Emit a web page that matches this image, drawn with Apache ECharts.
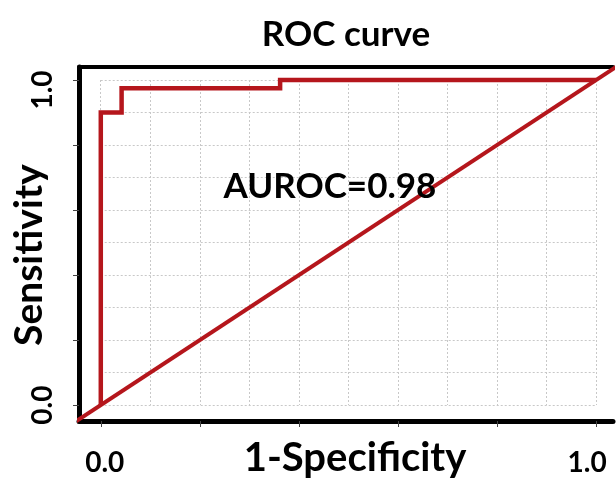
<!DOCTYPE html>
<html>
<head>
<meta charset="utf-8">
<script src="https://cdn.jsdelivr.net/npm/echarts@6/dist/echarts.min.js"></script>
<style>
html,body{margin:0;padding:0;background:#fff;}
#chart{width:616px;height:478px;}
</style>
</head>
<body>
<div id="chart"></div>
<script>
// ROC curve data (1-Specificity vs Sensitivity)
const fpr = [0, 0, 0.042, 0.042, 0.362, 0.362, 1];
const tpr = [0, 0.9, 0.9, 0.975, 0.975, 1, 1];
// chance diagonal (y = x), clipped by the plot frame
const diagX = [-0.1, 1.1];
const diagY = [-0.1, 1.1];
// axis ticks and labels
const tickValues = [0, 0.2, 0.4, 0.6, 0.8, 1];
const labelValues = [0, 1];
const gridStep = 0.1;
const titleText = 'ROC curve';
const aucText = 'AUROC=0.98';
const xName = '1-Specificity';
const yName = 'Sensitivity';

const FONT = 'Lato';
const RED = '#b5161c';

const chart = echarts.init(document.getElementById('chart'), null, {renderer: 'canvas'});

const frameX = {min: -0.044, max: 1.034};
const frameY = {min: -0.049, max: 1.04};

const lblStyle = {fontFamily: FONT, fontWeight: 'bold', fontSize: 28, color: '#000'};

chart.setOption({
  animation: false,
  backgroundColor: '#fff',
  title: [
    {text: titleText, left: 341, top: 12, textAlign: 'center',
     textStyle: {fontFamily: FONT, fontWeight: 'bold', fontSize: 35, color: '#000'}},
    {text: aucText, left: 325, top: 164, textAlign: 'center',
     textStyle: {fontFamily: FONT, fontWeight: 'bold', fontSize: 35, color: '#000'}}
  ],
  grid: [
    {left: 79, right: 3, top: 67, bottom: 57, containLabel: false, outerBoundsMode: 'none'},
    {left: 100.7, right: 20, top: 80, bottom: 73, containLabel: false, outerBoundsMode: 'none'}
  ],
  xAxis: [
    {type: 'value', gridIndex: 0, position: 'bottom', min: frameX.min, max: frameX.max,
     name: xName, nameLocation: 'middle', nameGap: 17, nameMoveOverlap: false,
     nameTextStyle: {fontFamily: FONT, fontWeight: 'bold', fontSize: 40, color: '#000', padding: [0, 0, 0, 18]},
     axisLine: {show: true, onZero: false, lineStyle: {color: '#000', width: 5}},
     axisTick: {show: true, customValues: tickValues, length: 6, lineStyle: {color: '#444', width: 1}},
     axisLabel: {show: true, customValues: labelValues, margin: 28,
       formatter: v => v === 0 ? '{a|0.0}' : '{b|1.0}',
       rich: {a: Object.assign({padding: [0, 0, 0, 8]}, lblStyle),
              b: Object.assign({padding: [0, 18, 0, 0]}, lblStyle)},
       ...lblStyle},
     splitLine: {show: false}},
    {type: 'value', gridIndex: 0, position: 'top', min: frameX.min, max: frameX.max,
     axisLine: {show: true, onZero: false, lineStyle: {color: '#000', width: 4}},
     axisTick: {show: false}, axisLabel: {show: false}, splitLine: {show: false}},
    {type: 'value', gridIndex: 1, min: 0, max: 1, interval: gridStep,
     axisLine: {show: false}, axisTick: {show: false}, axisLabel: {show: false},
     splitLine: {show: true, lineStyle: {color: '#c8c8c8', width: 1, type: [2, 2]}}}
  ],
  yAxis: [
    {type: 'value', gridIndex: 0, min: frameY.min, max: frameY.max,
     name: yName, nameLocation: 'middle', nameGap: 30, nameMoveOverlap: false,
     nameTextStyle: {fontFamily: FONT, fontWeight: 'bold', fontSize: 39, color: '#000', padding: [0, 22, 0, 0]},
     axisLine: {show: true, onZero: false, lineStyle: {color: '#000', width: 5}},
     axisTick: {show: true, customValues: tickValues, length: 6, lineStyle: {color: '#444', width: 1}},
     axisLabel: {show: true, customValues: labelValues, rotate: 90, margin: 22,
       formatter: v => v === 0 ? '{a|0.0}' : '{b|1.0}',
       rich: {a: Object.assign({padding: [0, 0, 0, 0]}, lblStyle),
              b: Object.assign({padding: [0, 20, 0, 0]}, lblStyle)},
       ...lblStyle},
     splitLine: {show: false}},
    {type: 'value', gridIndex: 1, min: 0, max: 1, interval: gridStep,
     axisLine: {show: false}, axisTick: {show: false}, axisLabel: {show: false},
     splitLine: {show: true, lineStyle: {color: '#c8c8c8', width: 1, type: [2, 2]}}}
  ],
  series: [
    {type: 'line', xAxisIndex: 0, yAxisIndex: 0, clip: true, symbol: 'none',
     lineStyle: {color: RED, width: 4}, z: 3,
     data: diagX.map((x, i) => [x, diagY[i]])},
    {type: 'line', xAxisIndex: 0, yAxisIndex: 0, clip: true, symbol: 'none',
     lineStyle: {color: RED, width: 4.5, join: 'miter'}, z: 4,
     data: fpr.map((x, i) => [x, tpr[i]])}
  ]
});
</script>
</body>
</html>
